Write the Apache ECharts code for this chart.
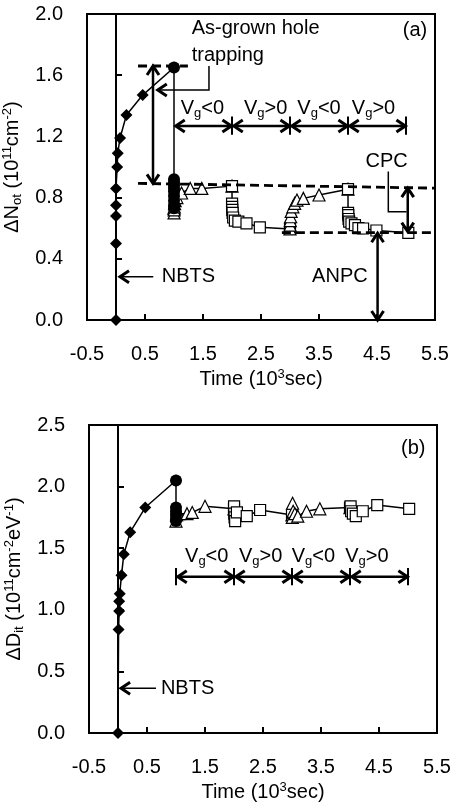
<!DOCTYPE html>
<html><head><meta charset="utf-8">
<script src="https://cdn.jsdelivr.net/npm/echarts@6/dist/echarts.min.js"></script>
<style>html,body{margin:0;padding:0;background:#fff}#c{width:453px;height:804px}</style>
</head><body><div id="c"></div>
<script>
// ---- tick labels ----
const xTickLabels = [-0.5, 0.5, 1.5, 2.5, 3.5, 4.5, 5.5];
const xTickMarks = [0.5, 1.5, 2.5, 3.5, 4.5];
// ---- panel (a): ΔNot ----
const aNBTS = [[0,0],[0,0.5],[0,0.68],[0,0.75],[0,0.86],[0.02,1.0],[0.03,1.09],[0.07,1.19],[0.18,1.34],[0.46,1.47],[1.0,1.65]];
const aCirc = [[1.0,1.65],[1.0,0.92],[1.0,0.90],[1.0,0.88],[1.0,0.86],[1.0,0.84],[1.0,0.81],[1.0,0.78],[1.0,0.75],[1.0,0.73]];
const aTri1 = [[1.0,0.73],[1.001,0.70],[1.002,0.72],[1.005,0.74],[1.01,0.76],[1.02,0.78],[1.05,0.80],[1.13,0.83],[1.28,0.86],[1.48,0.86],[2.0,0.875]];
const aSq2 = [[2.0,0.875],[2.001,0.76],[2.002,0.74],[2.005,0.72],[2.01,0.70],[2.02,0.67],[2.05,0.65],[2.11,0.643],[2.25,0.632],[2.48,0.606],[3.0,0.595]];
const aTri3 = [[3.0,0.595],[3.001,0.62],[3.005,0.65],[3.01,0.675],[3.02,0.71],[3.05,0.74],[3.08,0.762],[3.12,0.784],[3.23,0.795],[3.5,0.817],[4.0,0.855]];
const aSq4 = [[4.0,0.855],[4.001,0.70],[4.005,0.686],[4.01,0.66],[4.02,0.643],[4.06,0.632],[4.12,0.62],[4.18,0.60],[4.26,0.598],[4.49,0.585],[5.04,0.57]];
// ---- panel (b): ΔDit ----
const bNBTS = [[0,0],[0.01,0.84],[0.02,0.99],[0.02,1.07],[0.03,1.13],[0.06,1.28],[0.1,1.45],[0.21,1.63],[0.47,1.83],[1.0,2.05]];
const bCirc = [[1.0,2.05],[1.0,1.83],[1.0,1.80],[1.0,1.77],[1.0,1.74],[1.0,1.72]];
const bTri1 = [[1.0,1.72],[1.01,1.77],[1.05,1.78],[1.19,1.78],[1.28,1.79],[1.5,1.84],[2.0,1.82]];
const bSq2 = [[2.0,1.82],[2.001,1.84],[2.005,1.78],[2.01,1.75],[2.02,1.72],[2.05,1.79],[2.22,1.76],[2.45,1.81],[3.0,1.77]];
const bTri3 = [[3.0,1.77],[3.005,1.75],[3.01,1.865],[3.02,1.80],[3.05,1.78],[3.1,1.76],[3.25,1.80],[3.48,1.82],[4.0,1.83]];
const bSq4 = [[4.0,1.83],[4.01,1.84],[4.02,1.80],[4.05,1.78],[4.1,1.76],[4.22,1.80],[4.47,1.85],[5.02,1.82]];

const FONT = 'Liberation Sans';
const FS = 20;
const chart = echarts.init(document.getElementById('c'), null, {renderer:'canvas'});

const richTxt = {
  n: {fontSize: FS, fontFamily: FONT, color:'#000'},
  sub: {fontSize: 13, fontFamily: FONT, color:'#000', padding:[10,0,0,0]},
  sup: {fontSize: 13, fontFamily: FONT, color:'#000', padding:[0,0,10,0]}
};

function xAxisCfg(gi) {
  return {
    type:'value', gridIndex: gi, min:-0.5, max:5.5,
    axisLine:{show:true, onZero:false, lineStyle:{color:'#000', width:2}},
    axisTick:{show:true, inside:true, length:6, customValues: xTickMarks, lineStyle:{color:'#000', width:2}},
    axisLabel:{customValues: xTickLabels, color:'#000', fontSize:FS, fontFamily:FONT, margin:24,
      formatter: v => (Math.round(v*10)/10).toFixed(1)},
    splitLine:{show:false},
    name:'{n|Time (10}{sup|3}{n|sec)}', nameLocation:'middle', nameGap:48,
    nameTextStyle:{rich: richTxt}
  };
}
function yAxisCfg(gi, max, interval, name) {
  return {
    type:'value', gridIndex: gi, min:0, max:max, interval:interval,
    axisLine:{show:true, lineStyle:{color:'#000', width:2}},
    axisTick:{show:true, inside:true, length:6, lineStyle:{color:'#000', width:2}},
    axisLabel:{color:'#000', fontSize:FS, fontFamily:FONT, margin:24, formatter: v => v.toFixed(1)},
    splitLine:{show:false},
    name: name, nameLocation:'middle', nameGap:46, nameRotate:90,
    nameTextStyle:{rich: richTxt}
  };
}
function ser(data, gi, sym, size, filled, z) {
  return {
    type:'line', xAxisIndex: gi, yAxisIndex: gi, data: data,
    symbol: sym, symbolSize: size, showAllSymbol:true,
    lineStyle:{color:'#000', width:1.5},
    itemStyle:{color: filled ? '#000' : '#fff', borderColor:'#000', borderWidth: filled ? 0 : 1.2},
    emphasis:{disabled:true}, animation:false, z: z || 3
  };
}

chart.setOption({
  animation:false,
  grid:[
    {left:87, top:14, width:348, height:306, show:true, borderColor:'#000', borderWidth:2, outerBoundsMode:'none', containLabel:false},
    {left:89, top:425, width:348, height:308, show:true, borderColor:'#000', borderWidth:2, outerBoundsMode:'none', containLabel:false}
  ],
  xAxis:[xAxisCfg(0), xAxisCfg(1)],
  yAxis:[
    yAxisCfg(0, 2.0, 0.4, '{n|ΔN}{sub|ot}{n| (10}{sup|11}{n|cm}{sup|-2}{n|)}'),
    yAxisCfg(1, 2.5, 0.5, '{n|ΔD}{sub|it}{n| (10}{sup|11}{n|cm}{sup|-2}{n|eV}{sup|-1}{n|)}')
  ],
  series:[
    ser(aNBTS,0,'diamond',12,true),
    ser(aTri1,0,'triangle',12,false),
    ser(aSq2,0,'rect',11,false),
    ser(aTri3,0,'triangle',12,false),
    ser(aSq4,0,'rect',11,false),
    ser(aCirc,0,'circle',12,true,4),
    ser(bNBTS,1,'diamond',12,true),
    ser(bTri1,1,'triangle',12,false),
    ser(bSq2,1,'rect',11,false),
    ser(bTri3,1,'triangle',12,false),
    ser(bSq4,1,'rect',11,false),
    ser(bCirc,1,'circle',12,true,4)
  ]
});

// ---- annotations (positions in data units, converted by the chart) ----
function P(g, x, y){ return chart.convertToPixel({gridIndex:g}, [x, y]); }
const G = [];
function poly(pts, w, dash){
  G.push({type:'polyline', silent:true, z:10, shape:{points:pts},
    style:{stroke:'#000', lineWidth:w, fill:null, lineDash: dash || null}});
}
function head(tip, from){
  const dx = tip[0]-from[0], dy = tip[1]-from[1];
  const L = Math.hypot(dx,dy); const ux = dx/L, uy = dy/L;
  const l = 9, w = 6;
  const bx = tip[0]-ux*l, by = tip[1]-uy*l;
  poly([[bx - uy*w, by + ux*w], tip, [bx + uy*w, by - ux*w]], 3);
}
function arrow(g, a, b, both, w){
  const p = P(g,a[0],a[1]), q = P(g,b[0],b[1]);
  poly([p,q], w || 2.5);
  head(q,p); if (both) head(p,q);
}
function text(g, x, y, str, align){
  const p = P(g,x,y);
  G.push({type:'text', silent:true, z:11, x:p[0], y:p[1],
    style:{text:str, rich:richTxt, fontSize:FS, fontFamily:FONT, fill:'#000',
      align: align || 'center', verticalAlign:'middle'}});
}
// panel a
poly([P(0,0.38,1.66), P(0,1.24,1.66)], 2.8, [9,5]);
poly([P(0,0.38,0.893), P(0,5.5,0.862)], 2.8, [9,5]);
poly([P(0,2.86,0.571), P(0,5.5,0.571)], 2.8, [9,5]);
arrow(0, [0.638,1.66], [0.638,0.893], true);
poly([P(0,1.603,1.66), P(0,1.603,1.503), P(0,0.74,1.503)], 1.5);
head(P(0,0.72,1.503), P(0,1.0,1.503));
text(0, 1.305, 1.906, '{n|As-grown hole}', 'left');
text(0, 1.305, 1.732, '{n|trapping}', 'left');
text(0, 5.155, 1.895, '{n|(a)}');
const vgLabels = ['{n|V}{sub|g}{n|<0}','{n|V}{sub|g}{n|>0}','{n|V}{sub|g}{n|<0}','{n|V}{sub|g}{n|>0}'];
const aVgX = [1.49, 2.58, 3.5, 4.44], bVgX = [1.53, 2.46, 3.37, 4.29];
for (let i=0;i<4;i++){
  text(0, aVgX[i], 1.384, vgLabels[i]);
  arrow(0, [1.03+i,1.268], [1.99+i,1.268], true);
  poly([P(0,2+i,1.21), P(0,2+i,1.33)], 2);
  text(1, bVgX[i], 1.43, vgLabels[i]);
  arrow(1, [1.03+i,1.269], [1.99+i,1.269], true);
  poly([P(1,1+i,1.20), P(1,1+i,1.34)], 2);
}
poly([P(1,5,1.20), P(1,5,1.34)], 2);
text(0, 4.667, 1.035, '{n|CPC}');
poly([P(0,4.695,0.97), P(0,4.695,0.708), P(0,5.01,0.708)], 1.5);
arrow(0, [5.03,0.862], [5.03,0.578], true);
text(0, 3.86, 0.283, '{n|ANPC}');
arrow(0, [4.51,0.567], [4.51,0.0], true);
arrow(0, [0.643,0.283], [0.069,0.283], false, 1.5);
text(0, 0.788, 0.283, '{n|NBTS}', 'left');
// panel b
text(1, 5.09, 2.31, '{n|(b)}');
arrow(1, [0.655,0.363], [0.053,0.363], false, 1.5);
text(1, 0.74, 0.363, '{n|NBTS}', 'left');
chart.setOption({graphic: G});
</script></body></html>
